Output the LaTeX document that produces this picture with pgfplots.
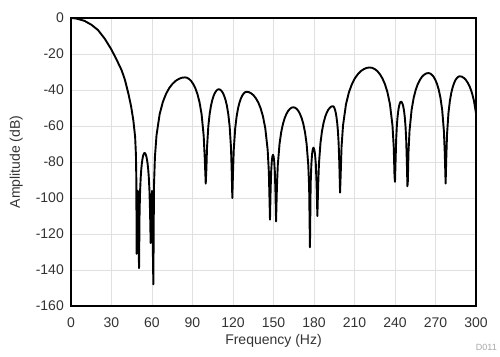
\documentclass[border=0pt]{standalone}
\usepackage{pgfplots}
\pgfplotsset{compat=1.18}
\usepackage{fontspec}
\setmainfont{Liberation Sans}
\begin{document}
\begin{tikzpicture}
\begin{axis}[
  at={(0,0)}, anchor=south west,
  scale only axis, width=405bp, height=288bp,
  xmin=0, xmax=300, ymin=-160, ymax=0,
  xtick={0,30,...,300},
  xticklabels={0,30,60,90,120,150,180,210,240,270,300},
  ytick={-160,-140,...,0},
  yticklabels={-160,-140,-120,-100,-80,-60,-40,-20,0},
  major tick length=0pt,
  grid=major,
  major grid style={black!12, line width=0.9bp},
  axis line style={black, line width=1.9bp},
  tick label style={font=\fontsize{14bp}{16bp}\selectfont, text=black!80, inner sep=0pt},
  xticklabel style={anchor=north, yshift=-12bp},
  yticklabel style={anchor=east, xshift=-7bp},
  xlabel={Frequency (Hz)},
  ylabel={Amplitude (dB)},
  every axis x label/.style={at={(axis description cs:0.5,0)}, anchor=north, yshift=-28bp, inner sep=0pt, font=\fontsize{14bp}{16bp}\selectfont, text=black!80},
  every axis y label/.style={at={(axis description cs:0,0.5)}, xshift=-48bp, rotate=90, anchor=south, inner sep=0pt, font=\fontsize{14bp}{16bp}\selectfont, text=black!80},
  clip=false,
]
\addplot[black, line width=1.9bp, line join=round, mark=none] coordinates {
(0,0) (3,-0.2) (5,-0.5) (10,-1.6) (15,-3.7) (20,-6.7) (25,-11.5) (30,-17.6) (34,-23.5) (37.5,-29) (40,-34.5) (42.5,-42) (44.5,-49) (46.2,-57) (47.5,-66) (48.1,-76) (48.4,-90) (48.6,-131) (49.5,-96) (50.4,-139)
(50.81,-107.2) (51.22,-95.4) (51.63,-88.7) (52.04,-84.2) (52.45,-81) (52.86,-78.7) (53.27,-77) (53.68,-75.9) (54.09,-75.2) (54.5,-75) (54.95,-75.2) (55.4,-75.9) (55.85,-77) (56.3,-78.7) (56.75,-81) (57.2,-84.2) (57.65,-88.7) (58.1,-95.4) (58.55,-107.2) (59,-125) (60,-96) (61,-148)
(61.47,-93.2) (62.17,-77.2) (63.34,-65.2) (65.68,-53.4) (68.02,-46.7) (70.36,-42.2) (72.7,-39) (75.04,-36.7) (77.38,-35) (79.72,-33.9) (82.06,-33.2) (84.4,-33) (85.94,-33.2) (87.48,-33.9) (89.02,-35) (90.56,-36.7) (92.1,-39) (93.64,-42.2) (95.18,-46.7) (96.72,-53.4) (98.26,-65.2) (99.03,-77.2) (99.8,-92)
(100.29,-83.8) (100.77,-71.8) (101.74,-60) (102.71,-53.3) (103.68,-48.8) (104.65,-45.6) (105.62,-43.3) (106.59,-41.6) (107.56,-40.5) (108.53,-39.8) (109.5,-39.6) (110.5,-39.8) (111.5,-40.5) (112.5,-41.6) (113.5,-43.3) (114.5,-45.6) (115.5,-48.8) (116.5,-53.3) (117.5,-60) (118.5,-71.8) (119,-83.8) (119.5,-100)
(120.03,-85.2) (120.56,-73.2) (121.62,-61.4) (122.68,-54.7) (123.74,-50.2) (124.8,-47) (125.86,-44.7) (126.92,-43) (127.98,-41.9) (129.04,-41.2) (130.1,-41) (131.83,-41.2) (133.56,-41.9) (135.29,-43) (137.02,-44.7) (138.75,-47) (140.48,-50.2) (142.21,-54.7) (143.94,-61.4) (145.67,-73.2) (146.54,-85.2) (147.4,-112)
(147.84,-96.4) (148.28,-85.2) (148.72,-79.7) (149.16,-76.9) (149.6,-76) (150.06,-76.9) (150.52,-79.7) (150.98,-85.2) (151.44,-96.4) (151.9,-113)
(152.54,-93.8) (153.18,-81.8) (154.46,-70) (155.74,-63.3) (157.02,-58.8) (158.3,-55.6) (159.58,-53.3) (160.86,-51.6) (162.14,-50.5) (163.42,-49.8) (164.7,-49.6) (165.93,-49.8) (167.16,-50.5) (168.39,-51.6) (169.62,-53.3) (170.85,-55.6) (172.08,-58.8) (173.31,-63.3) (174.54,-70) (175.77,-81.8) (176.39,-93.8) (177,-127.4)
(177.52,-92.4) (178.04,-81.2) (178.56,-75.7) (179.08,-72.9) (179.6,-72) (180.18,-72.9) (180.76,-75.7) (181.34,-81.2) (181.92,-92.4) (182.5,-110)
(183.08,-93.2) (183.65,-81.2) (184.8,-69.4) (185.95,-62.7) (187.1,-58.2) (188.25,-55) (189.4,-52.7) (190.55,-51) (191.7,-49.9) (192.85,-49.2) (194,-49) (194.53,-49.2) (195.06,-49.9) (195.59,-51) (196.12,-52.7) (196.65,-55) (197.18,-58.2) (197.71,-62.7) (198.24,-69.4) (198.77,-81.2) (199.3,-97)
(199.74,-87.7) (200.4,-71.7) (201.5,-59.7) (203.7,-47.9) (205.9,-41.2) (208.1,-36.7) (210.3,-33.5) (212.5,-31.2) (214.7,-29.5) (216.9,-28.4) (219.1,-27.7) (221.3,-27.5) (223.17,-27.7) (225.04,-28.4) (226.91,-29.5) (228.78,-31.2) (230.65,-33.5) (232.52,-36.7) (234.39,-41.2) (236.26,-47.9) (238.13,-59.7) (239.07,-71.7) (239.63,-87.7) (240,-91)
(240.45,-78.7) (240.9,-66.9) (241.35,-60.2) (241.8,-55.7) (242.25,-52.5) (242.7,-50.2) (243.15,-48.5) (243.6,-47.4) (244.05,-46.7) (244.5,-46.5) (244.97,-46.7) (245.44,-47.4) (245.91,-48.5) (246.38,-50.2) (246.85,-52.5) (247.32,-55.7) (247.79,-60.2) (248.26,-66.9) (248.73,-78.7) (249.2,-93.5)
(249.51,-90.8) (249.98,-74.8) (250.75,-62.8) (252.3,-51) (253.85,-44.3) (255.4,-39.8) (256.95,-36.6) (258.5,-34.3) (260.05,-32.6) (261.6,-31.5) (263.15,-30.8) (264.7,-30.6) (265.98,-30.8) (267.26,-31.5) (268.54,-32.6) (269.82,-34.3) (271.1,-36.6) (272.38,-39.8) (273.66,-44.3) (274.94,-51) (276.22,-62.8) (276.86,-74.8) (277.5,-92)
(278.03,-76.6) (278.55,-64.6) (279.6,-52.8) (280.65,-46.1) (281.7,-41.6) (282.75,-38.4) (283.8,-36.1) (284.85,-34.4) (285.9,-33.3) (286.95,-32.6) (288,-32.4) (289.5,-32.6) (291,-33.3) (292.5,-34.4) (294,-36.1) (295.5,-38.4) (297,-41.6) (298.5,-46.1) (300,-52.8)
};
\node[anchor=east, inner sep=0pt, text=black!35, font=\fontsize{9bp}{10bp}\selectfont] at ([xshift=21bp, yshift=-41bp]axis description cs:1,0) {D011};
\end{axis}
\pgfresetboundingbox
\path[use as bounding box] (-71bp,-51bp) rectangle (429bp,306bp);
\end{tikzpicture}
\end{document}
